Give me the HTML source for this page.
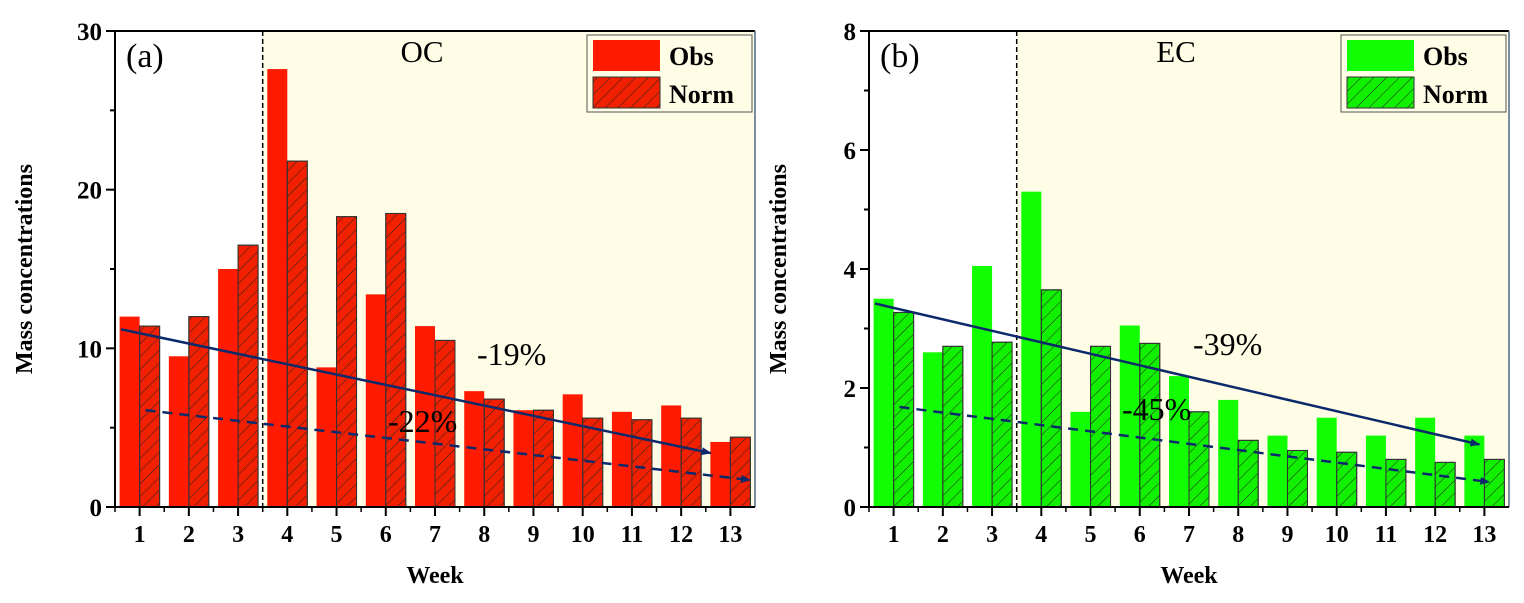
<!DOCTYPE html>
<html><head><meta charset="utf-8"><style>
body{margin:0;background:#fff;}
svg{display:block;}
svg text{font-family:"Liberation Serif","DejaVu Serif",serif;}
</style></head><body>
<svg id="chart" width="1524" height="603" viewBox="0 0 1524 603">
<defs>
<pattern id="hatch" patternUnits="userSpaceOnUse" width="9" height="9" patternTransform="rotate(45)">
<line x1="0" y1="0" x2="0" y2="9" stroke="#222" stroke-width="1"/>
</pattern>
<marker id="arrow" markerWidth="10" markerHeight="8" refX="9" refY="4" orient="auto" markerUnits="userSpaceOnUse">
<path d="M0,0 L10,4 L0,8 Z" fill="#0c2a6b"/>
</marker>
</defs>
</svg>
<script>
const weeks = ["1","2","3","4","5","6","7","8","9","10","11","12","13"];
const ocObs  = [12.0, 9.5, 15.0, 27.6, 8.8, 13.4, 11.4, 7.3, 6.1, 7.1, 6.0, 6.4, 4.1];
const ocNorm = [11.4, 12.0, 16.5, 21.8, 18.3, 18.5, 10.5, 6.8, 6.1, 5.6, 5.5, 5.6, 4.4];
const ecObs  = [3.5, 2.6, 4.05, 5.3, 1.6, 3.05, 2.2, 1.8, 1.2, 1.5, 1.2, 1.5, 1.2];
const ecNorm = [3.27, 2.7, 2.77, 3.65, 2.7, 2.75, 1.6, 1.12, 0.95, 0.92, 0.8, 0.75, 0.8];
const ocTicks = [0, 10, 20, 30];
const ecTicks = [0, 2, 4, 6, 8];
// trend lines: [startWeek, startValue, endWeek, endValue]
const ocSolid = [0.62, 11.2, 12.6, 3.4];
const ocDash  = [1.12, 6.1, 13.4, 1.7];
const ecSolid = [0.62, 3.42, 12.9, 1.05];
const ecDash  = [1.12, 1.68, 13.1, 0.42];

const NS = "http://www.w3.org/2000/svg";
const svg = document.getElementById("chart");
const SERIF = '"Liberation Serif","DejaVu Serif",serif';
function el(tag, attrs, parent, text){
  const e = document.createElementNS(NS, tag);
  for (const k in attrs) e.setAttribute(k, attrs[k]);
  if (tag === "text") e.setAttribute("font-family", SERIF);
  if (text !== undefined) e.textContent = text;
  (parent || svg).appendChild(e);
  return e;
}

function panel(cfg){
  const g = el("g", {});
  
  
  const L = cfg.left, R = cfg.left + 640, T = 31, B = 507;
  const step = 640 / weeks.length;
  const x = i => L + step * (i + 0.5);
  const xw = w => L + step * (w - 0.5);
  const y = v => B - (v / cfg.max) * (B - T);
  const sh = el("rect", {x: L + step*3, y: T, width: R - (L + step*3), height: B - T, fill: "#fffde6"}, g);
  
  
  weeks.forEach((w, i) => {
    const cx = x(i);
    const b1 = el("rect", {x: cx - 20, y: y(cfg.obs[i]), width: 20, height: B - y(cfg.obs[i]), fill: cfg.color}, g);
    
    
    const b2 = el("rect", {x: cx, y: y(cfg.norm[i]), width: 20, height: B - y(cfg.norm[i]), fill: cfg.color2, stroke: "#333", "stroke-width": 1}, g);
    
    
    el("rect", {x: cx, y: y(cfg.norm[i]), width: 20, height: B - y(cfg.norm[i]), fill: "url(#hatch)", stroke: "#333", "stroke-width": 1}, g);
  });
  const dv = el("line", {x1: L + step*3, y1: T, x2: L + step*3, y2: B, stroke: "#000", "stroke-width": 1.5, "stroke-dasharray": "5,3"}, g);
  
  
  el("line", {x1: L, y1: T, x2: R, y2: T, stroke: "#000", "stroke-width": 2}, g);
  el("line", {x1: R, y1: T, x2: R, y2: B, stroke: "#4a6a8a", "stroke-width": 1.5}, g);
  el("line", {x1: L, y1: T, x2: L, y2: B + 1, stroke: "#000", "stroke-width": 2}, g);
  el("line", {x1: L - 1, y1: B, x2: R, y2: B, stroke: "#000", "stroke-width": 2}, g);
  cfg.ticks.forEach((t, k) => {
    el("line", {x1: L - 9, y1: y(t), x2: L, y2: y(t), stroke: "#000", "stroke-width": 2}, g);
    const tl = el("text", {x: L - 13, y: y(t) + 9, "text-anchor": "end", "font-size": 25, "font-weight": "bold"}, g, String(t));
    
    
    if (k < cfg.ticks.length - 1) {
      const m = (t + cfg.ticks[k+1]) / 2;
      el("line", {x1: L - 5, y1: y(m), x2: L, y2: y(m), stroke: "#000", "stroke-width": 2}, g);
    }
  });
  weeks.forEach((w, i) => {
    el("line", {x1: x(i), y1: B, x2: x(i), y2: B + 9, stroke: "#000", "stroke-width": 2}, g);
    el("line", {x1: L + step*i, y1: B, x2: L + step*i, y2: B + 5, stroke: "#000", "stroke-width": 1.5}, g);
    const tl = el("text", {x: x(i), y: B + 35, "text-anchor": "middle", "font-size": 24, "font-weight": "bold"}, g, w);
    
    
  });
  const s = cfg.solid, d = cfg.dash;
  const sl = el("line", {x1: xw(s[0]), y1: y(s[1]), x2: xw(s[2]), y2: y(s[3]), stroke: "#0c2a6b", "stroke-width": 2.5, "marker-end": "url(#arrow)"}, g);
  
  
  const dl = el("line", {x1: xw(d[0]), y1: y(d[1]), x2: xw(d[2]), y2: y(d[3]), stroke: "#0c2a6b", "stroke-width": 2.5, "stroke-dasharray": "10,7", "marker-end": "url(#arrow)"}, g);
  
  
  const a1 = el("text", {x: cfg.p1[0], y: cfg.p1[1], "font-size": 32}, g, cfg.p1[2]);
  
  
  const a2 = el("text", {x: cfg.p2[0], y: cfg.p2[1], "font-size": 32}, g, cfg.p2[2]);
  
  
  const pl = el("text", {x: L + 11, y: 67, "font-size": 34}, g, cfg.letter);
  
  
  const ti = el("text", {x: L + 307, y: 62, "text-anchor": "middle", "font-size": 31}, g, cfg.title);
  
  
  const lg = el("g", {}, g);
  
  
  const lx = R - 168;
  el("rect", {x: lx, y: 35, width: 165, height: 77, fill: "#fffde6", stroke: "#555", "stroke-width": 1}, lg);
  el("rect", {x: lx + 6, y: 40, width: 67, height: 31, fill: cfg.color}, lg);
  el("rect", {x: lx + 6, y: 77, width: 67, height: 31, fill: cfg.color2, stroke: "#333"}, lg);
  el("rect", {x: lx + 6, y: 77, width: 67, height: 31, fill: "url(#hatch)", stroke: "#333"}, lg);
  const o = el("text", {x: lx + 82, y: 65, "font-size": 26, "font-weight": "bold"}, lg, "Obs");
  
  
  const n = el("text", {x: lx + 82, y: 103, "font-size": 26, "font-weight": "bold"}, lg, "Norm");
  
  
  const yt = el("text", {x: 0, y: 0, "text-anchor": "middle", "font-size": 24, "font-weight": "bold", transform: `translate(${L - 83},${(T + B) / 2}) rotate(-90)`}, g, "Mass concentrations");
  
  
  const xt = el("text", {x: (L + R) / 2, y: 583, "text-anchor": "middle", "font-size": 24, "font-weight": "bold"}, g, "Week");
  
  
}

panel({name: "oc-panel", left: 115, max: 30, ticks: ocTicks, obs: ocObs, norm: ocNorm, color: "#ff1a00", color2: "#f02000",
  solid: ocSolid, dash: ocDash, p1: [477, 365, "-19%"], p2: [388, 432, "-22%"], letter: "(a)", title: "OC"});
panel({name: "ec-panel", left: 869, max: 8, ticks: ecTicks, obs: ecObs, norm: ecNorm, color: "#11ff00", color2: "#11f000",
  solid: ecSolid, dash: ecDash, p1: [1193, 355, "-39%"], p2: [1122, 420, "-45%"], letter: "(b)", title: "EC"});
</script>
</body></html>
